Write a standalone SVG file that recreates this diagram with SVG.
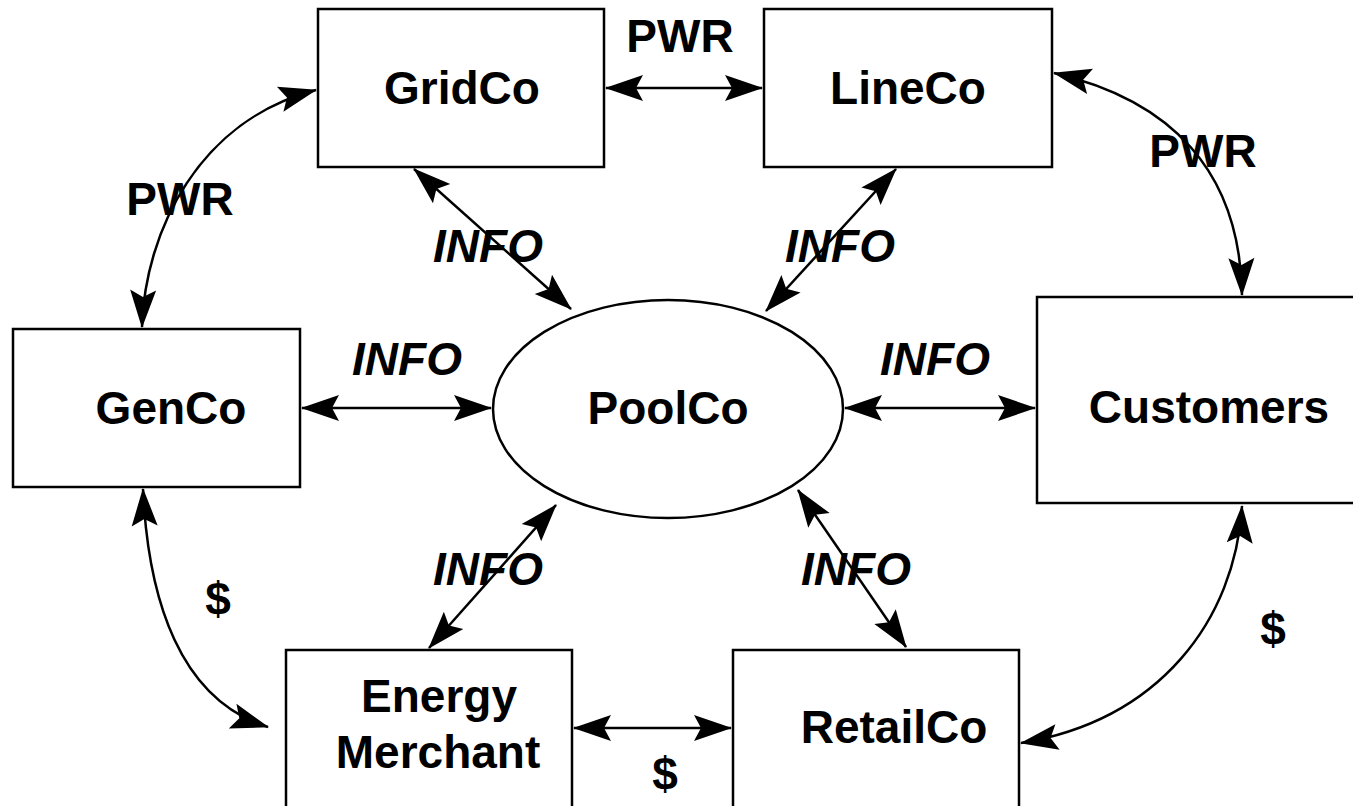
<svg xmlns="http://www.w3.org/2000/svg" width="1353" height="806" viewBox="0 0 1353 806">
<style>
.box{fill:#fff;stroke:#000;stroke-width:2.5}
.t{font-family:"Liberation Sans",Arial,sans-serif;font-weight:bold;font-size:46px;text-anchor:middle;fill:#000}
.i{font-style:italic}
.c{fill:none;stroke:#000;stroke-width:2.5;marker-start:url(#ah);marker-end:url(#ah)}
</style>
<defs>
<marker id="ah" markerUnits="userSpaceOnUse" markerWidth="42" markerHeight="30" viewBox="-40 -15 42 30" refX="0" refY="0" orient="auto-start-reverse">
<path d="M1,0 L-37,-13 L-30,0 L-37,13 Z" fill="#000"/>
</marker>
</defs>
<rect width="1353" height="806" fill="#fff"/>
<g id="connectors">
<path class="c" d="M606,88 L762,88"/>
<path class="c" d="M302,408 L491,408"/>
<path class="c" d="M845,408 L1035,408"/>
<path class="c" d="M574,728 L731,728"/>
<path class="c" d="M414,169 L571,309"/>
<path class="c" d="M896,169 L766,311"/>
<path class="c" d="M429,648 L556,505"/>
<path class="c" d="M906,647 L798,490"/>
<path class="c" d="M142,327 C145,230 200,120 316,90"/>
<path class="c" d="M1054,73 C1170,100 1240,170 1242,295"/>
<path class="c" d="M143,489 C148,600 180,700 268,727"/>
<path class="c" d="M1242,506 C1235,620 1160,720 1021,743"/>
</g>
<g id="labels">
<text class="t" x="680" y="52">PWR</text>
<text class="t" x="180" y="215">PWR</text>
<text class="t" x="1203" y="167">PWR</text>
<text class="t i" x="488" y="262">INFO</text>
<text class="t i" x="840" y="262">INFO</text>
<text class="t i" x="407" y="375">INFO</text>
<text class="t i" x="935" y="375">INFO</text>
<text class="t i" x="488" y="585">INFO</text>
<text class="t i" x="856" y="585">INFO</text>
<text class="t" x="218" y="615">$</text>
<text class="t" x="1273" y="645">$</text>
<text class="t" x="665" y="790">$</text>
</g>
<g id="GridCo"><rect class="box" x="318" y="9" width="286" height="158"/><text class="t" x="462" y="104">GridCo</text></g>
<g id="LineCo"><rect class="box" x="764" y="9" width="288" height="158"/><text class="t" x="908" y="104">LineCo</text></g>
<g id="GenCo"><rect class="box" x="13" y="329" width="287" height="158"/><text class="t" x="171" y="424">GenCo</text></g>
<g id="PoolCo"><ellipse class="box" cx="668" cy="409" rx="175" ry="109"/><text class="t" x="668" y="424">PoolCo</text></g>
<g id="Customers"><rect class="box" x="1037" y="297" width="330" height="206"/><text class="t" x="1209" y="423">Customers</text></g>
<g id="EnergyMerchant"><rect class="box" x="286" y="650" width="286" height="170"/><text class="t" x="439" y="712">Energy</text><text class="t" x="438" y="768">Merchant</text></g>
<g id="RetailCo"><rect class="box" x="733" y="650" width="286" height="170"/><text class="t" x="894" y="743">RetailCo</text></g>
</svg>
